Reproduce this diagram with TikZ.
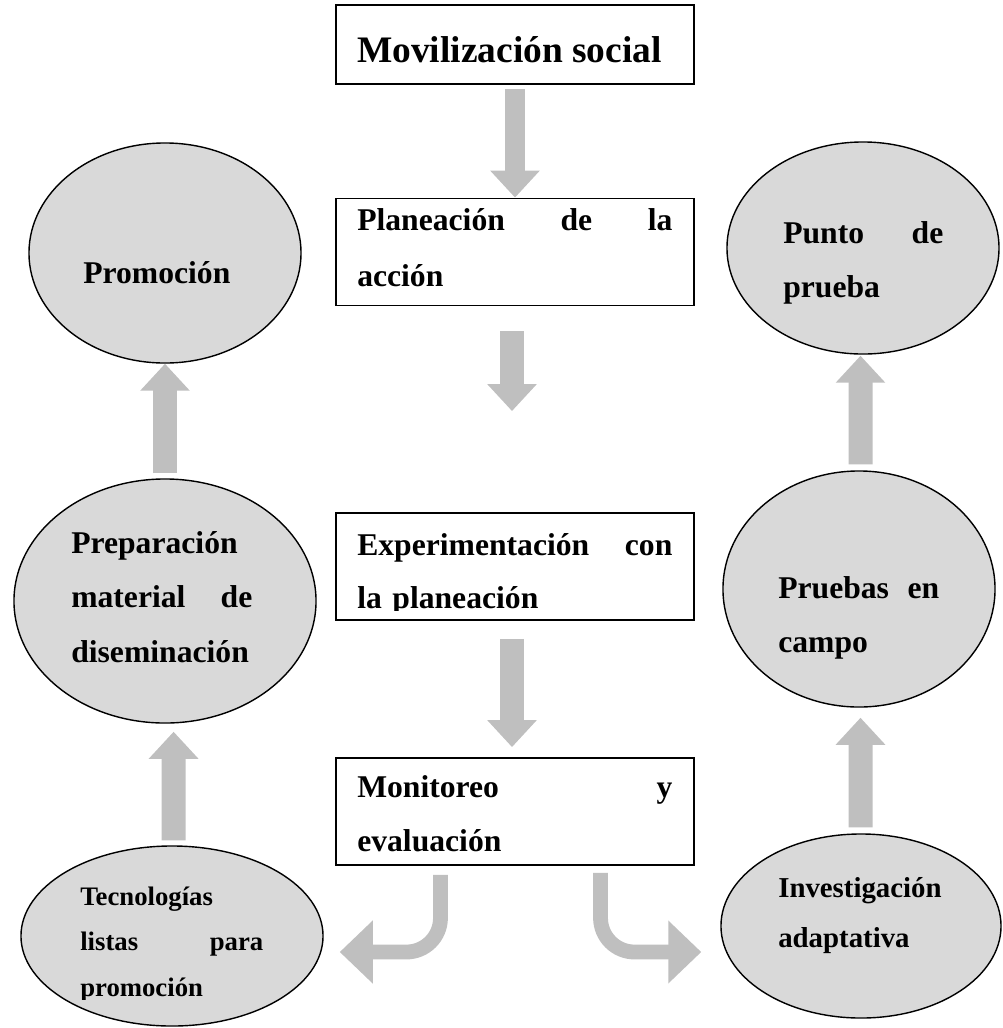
\documentclass[tikz,border=0pt]{standalone}
\usepackage{fontspec}
\setmainfont{Liberation Serif}
\usetikzlibrary{arrows.meta,shapes.geometric}

\definecolor{ovalgray}{HTML}{D9D9D9}
\definecolor{arrowgray}{HTML}{BFBFBF}

\tikzset{
  procbox/.style={draw, line width=1.3pt, minimum width=8.95cm, minimum height=2.675cm, inner sep=0pt},
  oval/.style={ellipse, draw, fill=ovalgray, line width=1pt, inner sep=0pt},
  lbl/.style={anchor=base west, inner sep=0pt, align=left, font=\bfseries\fontsize{22.5}{39}\selectfont},
  fatarrow/.style={color=arrowgray, line width=0.6cm, -{Triangle[length=0.675cm,width=1.2cm]}},
  bendarrow/.style={color=arrowgray, line width=0.37cm, rounded corners=0.85cm, -{Triangle[length=0.825cm,width=1.525cm]}},
}

\begin{document}
\begin{tikzpicture}[x=0.025cm, y=-0.025cm]
  \useasboundingbox (0,0) rectangle (1002,1028);
  % Boxes down the middle
  \node[procbox, minimum height=1.975cm] (mov) at (515,44.5) {};
  \node[procbox] (plan) at (515,252) {};
  \node[procbox] (expe) at (515,566.5) {};
  \node[procbox] (moni) at (515,811.5) {};
  % Ovals, left and right
  \node[oval, minimum width=6.8cm, minimum height=5.5cm] (promo) at (165,253) {};
  \node[oval, minimum width=7.55cm, minimum height=6.1cm] (prep) at (165,601) {};
  \node[oval, minimum width=7.55cm, minimum height=4.5cm] (tecno) at (172,936) {};
  \node[oval, minimum width=6.8cm, minimum height=5.3cm] (punto) at (863,248) {};
  \node[oval, minimum width=6.8cm, minimum height=5.9cm] (pruebas) at (859,589) {};
  \node[oval, minimum width=7cm, minimum height=4.6cm] (invest) at (861,926) {};

  % Box texts
  \node[lbl, font=\bfseries\fontsize{26.6}{32}\selectfont] (movtxt) at (357,62) {Movilización social};
  \node[lbl, text width=7.875cm, font=\bfseries\fontsize{22.5}{40.5}\selectfont] (plantxt) at (357,230)
    {Planeación\hfill de\hfill la\\acción};
  \begin{scope}
    \clip (336,513) rectangle (694,610);
    \node[lbl, text width=7.875cm, font=\bfseries\fontsize{22.5}{37.7}\selectfont] (expetxt) at (357,555)
      {Experimentación\hfill con\\la planeación};
  \end{scope}
  \node[lbl, text width=7.875cm, font=\bfseries\fontsize{22.5}{38.4}\selectfont] (monitxt) at (357,797)
    {Monitoreo\hfill y\\evaluación};

  % Oval texts
  \node[lbl] (promotxt) at (83,283) {Promoción};
  \node[lbl, text width=4.525cm] (preptxt) at (71,553) {Preparación\\material\hfill de\\diseminación};
  \begin{scope}
    \clip (20,846) rectangle (324,999);
    \node[lbl, text width=4.575cm, font=\bfseries\fontsize{19}{32.7}\selectfont] (tecnotxt) at (80,905)
      {Tecnologías\\listas\hfill para\\promoción};
  \end{scope}
  \node[lbl, text width=4cm] (puntotxt) at (783,243) {Punto\hfill de\\prueba};
  \node[lbl, text width=4.025cm] (pruebastxt) at (778,598) {Pruebas\hfill en\\campo};
  \node[lbl, text width=4.5cm, font=\bfseries\fontsize{20.5}{35.6}\selectfont] (investtxt) at (778,897)
    {Investigación\\adaptativa};

  % Arrows down the middle
  \draw[fatarrow, line width=0.5cm] ([yshift=-0.1cm]mov.south) -- (plan.north);
  \draw[fatarrow] ([xshift=-0.075cm,yshift=-0.625cm]plan.south) -- ([xshift=-0.075cm,yshift=2.525cm]expe.north);
  \draw[fatarrow] ([xshift=-0.075cm,yshift=-0.45cm]expe.south) -- ([xshift=-0.075cm,yshift=0.25cm]moni.north);
  % Arrows up the left
  \draw[fatarrow] ([yshift=0.125cm]prep.north) -- (promo.south);
  \draw[fatarrow] ([xshift=0.04cm,yshift=0.125cm]tecno.north) -- ([xshift=0.215cm,yshift=-0.2cm]prep.south);
  % Arrows up the right
  \draw[fatarrow] ([xshift=0.0375cm,yshift=0.15cm]pruebas.north) -- ([xshift=-0.0625cm,yshift=-0.025cm]punto.south);
  \draw[fatarrow] ([xshift=-0.0125cm,yshift=0.15cm]invest.north) -- ([xshift=0.0375cm,yshift=-0.25cm]pruebas.south);
  % Bent arrows out of the last box
  \draw[bendarrow] ([xshift=-1.8625cm,yshift=-0.225cm]moni.south) |- ([xshift=0.4cm,yshift=-0.4cm]tecno.east);
  \draw[bendarrow] ([xshift=2.1375cm,yshift=-0.175cm]moni.south) |- ([xshift=-0.475cm,yshift=-0.65cm]invest.west);
\end{tikzpicture}
\end{document}
